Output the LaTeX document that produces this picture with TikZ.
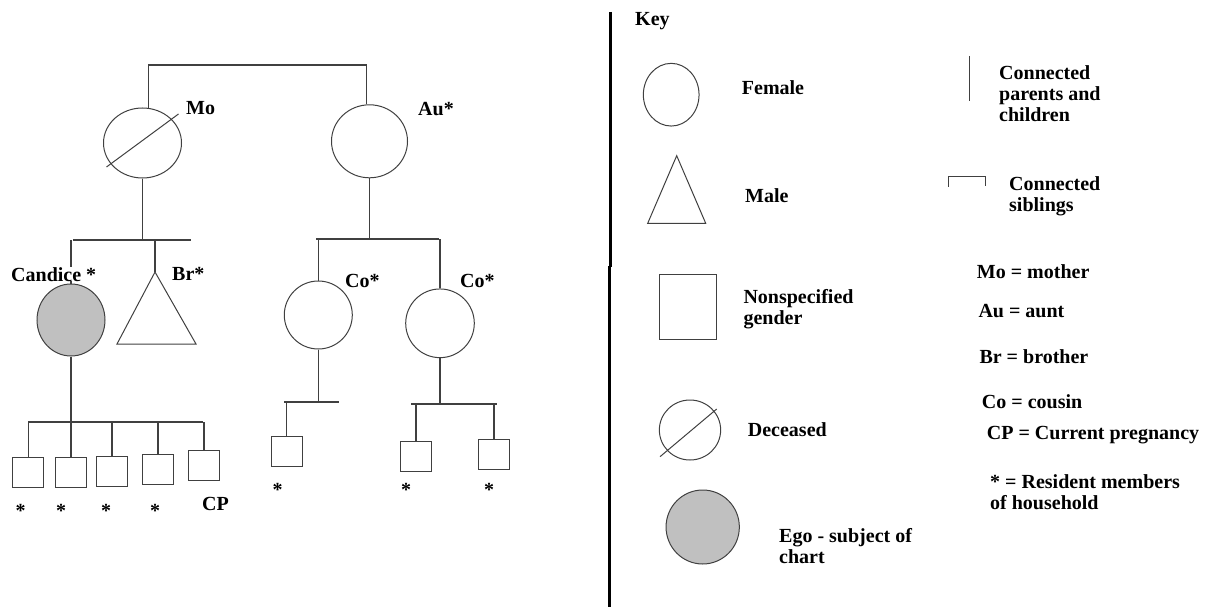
\documentclass[tikz,border=0pt]{standalone}
\usepackage{fontspec}
\setmainfont{Liberation Serif}
\usepackage{tikz}
\usetikzlibrary{shapes.geometric}

\definecolor{egogray}{RGB}{192,192,192}
\definecolor{penline}{RGB}{64,64,64}

\tikzset{
   person/.style={ellipse, draw=penline, line width=1pt, inner sep=0pt},
   nsbox/.style={rectangle, draw=penline, line width=1pt, inner sep=0pt,
      minimum width=31pt, minimum height=30pt},
   link/.style={draw=penline, line width=1.5pt},
   outline/.style={draw=penline, line width=1pt},
   lbl/.style={font=\fontsize{20}{21}\selectfont\bfseries, inner sep=0pt, anchor=base west},
   lblm/.style={font=\fontsize{20}{21}\selectfont\bfseries, inner sep=0pt, anchor=west, align=left},
   star/.style={font=\fontsize{20}{21}\selectfont\bfseries, inner sep=0pt, anchor=base}
}

\begin{document}
\begin{tikzpicture}[x=1pt, y=-1pt]
   \useasboundingbox (0,0) rectangle (1209,607);

   % mother and aunt
   \node[person, minimum width=78pt, minimum height=70pt] (mo) at (142.5,143) {};
   \draw[outline] ([shift={(-36,24)}]mo.center) -- ([shift={(36,-29)}]mo.center);
   \node[person, minimum width=76pt, minimum height=73pt] (au) at (369.5,141.3) {};
   \draw[link] (mo.80) -- ++(0,-43) -| (au.95);
   \node[lbl] (molbl) at (186,114.7) {Mo};
   \node[lbl] (aulbl) at (418,116) {Au*};

   % Candice and brother
   \coordinate (sibL) at (73,240);
   \coordinate (sibR) at (191,240);
   \draw[link] (sibL) -- (sibR);
   \draw[link] (mo.south) -- (mo.south |- sibL);
   \node[person, fill=egogray, minimum width=68pt, minimum height=72pt] (candice) at (71,320) {};
   \coordinate (br) at (155,272);
   \draw[outline] (br) -- (196,344) -- (117,344) -- cycle;
   \draw[link] (candice.north) -- (candice.north |- sibL);
   \draw[link] (br) -- (br |- sibL);
   \node[lbl, fill=white] (candicelbl) at (11,281) {Candice *};
   \node[lbl] (brlbl) at (172,280) {Br*};

   % cousins
   \coordinate (coL) at (316,239);
   \coordinate (coR) at (439,239);
   \draw[link] (coL) -- (coR);
   \draw[link] (au.south) -- (au.south |- coL);
   \node[person, minimum width=68pt, minimum height=68pt] (co1) at (318.3,315) {};
   \node[person, minimum width=68.6pt, minimum height=68.7pt] (co2) at (440,323.3) {};
   \draw[link] (co1.north) -- (co1.north |- coL);
   \draw[link] (co2.north) -- (co2.north |- coR);
   \node[lbl] (co1lbl) at (345,287) {Co*};
   \node[lbl] (co2lbl) at (460,287) {Co*};

   % Candice's children
   \coordinate (kidL) at (28,422);
   \coordinate (kidR) at (203,422);
   \draw[link] (kidL) -- (kidR);
   \draw[link] (candice.south) -- (candice.south |- kidL);
   \foreach \n/\bx/\by in {1/28.3/472.7, 2/70.8/472.7, 3/112/471.7, 4/158/469.3, 5/203.8/465.7}
   {
      \node[nsbox] (kid\n) at (\bx,\by) {};
      \draw[link] (kid\n.north) -- (kid\n.north |- kidL);
   }
   \foreach \sx in {20.7,61,106,155}
   \node[star] at (\sx,517.7) {*};
   \node[lbl] (cplbl) at (202,510.3) {CP};

   % cousins' children
   \coordinate (c1L) at (284,402);
   \coordinate (c1R) at (339,402);
   \draw[link] (c1L) -- (c1R);
   \draw[link] (co1.south) -- (co1.south |- c1L);
   \node[nsbox] (cc1) at (286.5,451) {};
   \draw[link] (cc1.north) -- (cc1.north |- c1L);
   \node[star] at (277.7,496) {*};

   \coordinate (c2L) at (411,404);
   \coordinate (c2R) at (497,404);
   \draw[link] (c2L) -- (c2R);
   \draw[link] (co2.south) -- (co2.south |- c2L);
   \node[nsbox] (cc2) at (415.8,456.7) {};
   \node[nsbox] (cc3) at (493.8,454.3) {};
   \draw[link] (cc2.north) -- (cc2.north |- c2L);
   \draw[link] (cc3.north) -- (cc3.north |- c2R);
   \node[star] at (406,496) {*};
   \node[star] at (489,496) {*};

   % divider
   \draw[black, line width=3pt] (610,12) -- (610,267);
   \draw[black, line width=3pt] (609,266) -- (609,607);

   % key
   \node[lbl] (key) at (635,25.3) {Key};
   \node[person, minimum width=55.7pt, minimum height=62.7pt] (kfem) at (671.2,94.7) {};
   \node[lbl] (kfemlbl) at (741.7,94.3) {Female};
   \coordinate (kmale) at (676.7,155.7);
   \draw[outline] (kmale) -- (705.7,223.3) -- (647.7,223.3) -- cycle;
   \node[lbl] (kmalelbl) at (745,202) {Male};
   \node[nsbox, minimum width=56.7pt, minimum height=65.3pt] (kbox) at (687.7,306.7) {};
   \node[lblm] (kboxlbl) at (743.3,309) {Nonspecified\\gender};
   \node[person, minimum width=61.3pt, minimum height=60pt] (kdec) at (690,430) {};
   \draw[outline] ([shift={(-30,26.7)}]kdec.center) -- ([shift={(26.7,-21)}]kdec.center);
   \node[lbl] (kdeclbl) at (747.7,436.3) {Deceased};
   \node[person, fill=egogray, minimum width=73.3pt, minimum height=74pt] (kego) at (702.7,527) {};
   \node[lblm] (kegolbl) at (779,546) {Ego - subject of\\chart};

   \draw[outline] (969,56) -- (969,101);
   \node[lblm] (kpclbl) at (999,93.3) {Connected\\parents and\\children};
   \draw[outline] (948.3,186.7) -- (948.3,176.7) -- (985,176.7) -- (985,186);
   \node[lblm] (ksiblbl) at (1009,196) {Connected\\siblings};

   \node[lbl] at (976.7,278) {Mo = mother};
   \node[lbl] at (978.3,317) {Au = aunt};
   \node[lbl] at (979.3,363) {Br = brother};
   \node[lbl] at (981.7,408) {Co = cousin};
   \node[lbl] at (986.7,439.7) {CP = Current pregnancy};
   \node[lblm] at (990,492.3) {* = Resident members\\of household};
\end{tikzpicture}
\end{document}
